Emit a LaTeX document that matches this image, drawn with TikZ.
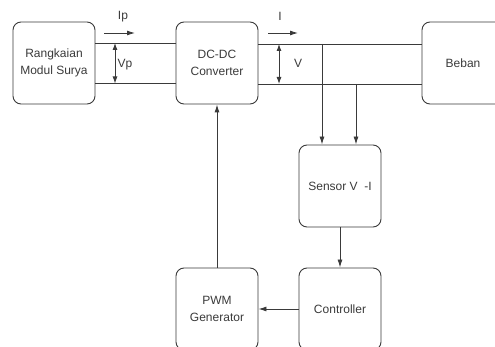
\documentclass[tikz,border=0pt]{standalone}
\usepackage{fontspec}
\setmainfont{Liberation Sans}
\usetikzlibrary{arrows.meta}
\definecolor{line-grey}{HTML}{3A3A3A}

\begin{document}
\begin{tikzpicture}[x=1pt, y=-1pt,
      every node/.style={font=\fontsize{12}{17}\selectfont, text=line-grey},
      block/.style={draw=line-grey, line width=0.9pt, rounded corners=8pt,
        minimum width=82pt, minimum height=82pt, inner sep=0pt, align=center},
      wire/.style={draw=line-grey, line width=0.9pt},
      flow/.style={wire, -{Latex[length=8pt, width=5pt]}},
      meter/.style={wire, {Latex[length=7pt, width=5pt]}-{Latex[length=7pt, width=5pt]}}]
    \clip (0,0) rectangle (495,347);
    % ---- Blocks
    \node[block] (modul)  at (54,63)  {Rangkaian\\Modul Surya};
    \node[block] (dcdc)   at (217,63) {DC-DC\\Converter};
    \node[block] (beban)  at (463,63) {Beban};
    \node[block] (sensor) at (340,186) {Sensor V~ -I};
    \node[block] (ctrl)   at (340,309) {Controller};
    \node[block] (pwm)    at (217,309) {PWM\\Generator};
    % ---- Power lines
    \draw[wire] ([yshift=20pt]modul.east) -- ([yshift=20pt]dcdc.west);
    \draw[wire] ([yshift=-20.5pt]modul.east) -- ([yshift=-20.5pt]dcdc.west);
    \draw[wire] ([yshift=19pt]dcdc.east) -- ([yshift=19pt]beban.west);
    \draw[wire] ([yshift=-21pt]dcdc.east) -- ([yshift=-21pt]beban.west);
    % ---- Measured quantities
    \coordinate (ipTail) at (104,33);
    \coordinate (ipHead) at (135,33);
    \coordinate (vpTop) at (115,43);
    \coordinate (vpBot) at (115,83.5);
    \coordinate (iTail) at (268,33);
    \coordinate (iHead) at (298,33);
    \coordinate (vTop) at (279,44);
    \coordinate (vBot) at (279,84);
    \draw[flow] (ipTail) -- (ipHead);
    \draw[meter] (vpTop) -- (vpBot);
    \draw[flow] (iTail) -- (iHead);
    \draw[meter] (vTop) -- (vBot);
    \node (ipLbl) at (123,17) {Ip};
    \node (vpLbl) at (125,65) {Vp};
    \node (iLbl)  at (280,16) {I};
    \node (vLbl)  at (298,63) {V};
    % ---- Sensing and control loop
    \coordinate (tapI) at (322,44);
    \coordinate (tapV) at (356,84);
    \draw[flow] (tapI) -- (tapI |- sensor.north);
    \draw[flow] (tapV) -- (tapV |- sensor.north);
    \draw[flow] (sensor) -- (ctrl);
    \draw[flow] (ctrl) -- (pwm);
    \draw[flow] (pwm) -- (dcdc);
\end{tikzpicture}
\end{document}
